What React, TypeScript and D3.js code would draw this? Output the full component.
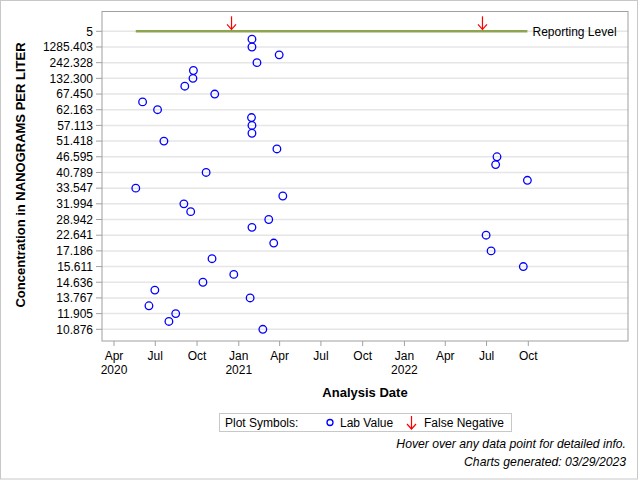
import React from "react";
import * as d3 from "d3";

// ---- data ----
// y categories (ordered top to bottom); only every other one is labelled on the axis
const yCategories: string[] = [
  "5", "1542.110", "1285.403", "512.760", "242.328", "187.450", "132.300", "98.214",
  "67.450", "64.870", "62.163", "59.602", "57.113", "54.231", "51.418", "48.977",
  "46.595", "43.512", "40.789", "36.904", "33.547", "32.815", "31.994", "30.127",
  "28.942", "25.330", "22.641", "19.874", "17.186", "16.402", "15.611", "15.098",
  "14.636", "14.215", "13.767", "12.851", "11.905", "11.340", "10.876",
];

const labDates: string[] = [
  "2021-01-30", "2021-01-30", "2021-03-31", "2021-02-10", "2020-09-23", "2020-09-22",
  "2020-09-04", "2020-11-09", "2020-06-03", "2020-07-06", "2021-01-29", "2021-01-30",
  "2021-01-30", "2020-07-20", "2021-03-26", "2022-07-24", "2022-07-21", "2020-10-21",
  "2022-09-29", "2020-05-19", "2021-04-08", "2020-09-02", "2020-09-17", "2021-03-08",
  "2021-01-30", "2022-06-30", "2021-03-19", "2022-07-11", "2020-11-03", "2022-09-20",
  "2020-12-21", "2020-10-14", "2020-06-30", "2021-01-26", "2020-06-17", "2020-08-15",
  "2020-07-31", "2021-02-23",
];
const labValues: string[] = [
  "1542.110", "1285.403", "512.760", "242.328", "187.450", "132.300", "98.214",
  "67.450", "64.870", "62.163", "59.602", "57.113", "54.231", "51.418", "48.977",
  "46.595", "43.512", "40.789", "36.904", "33.547", "32.815", "31.994", "30.127",
  "28.942", "25.330", "22.641", "19.874", "17.186", "16.402", "15.611", "15.098",
  "14.636", "14.215", "13.767", "12.851", "11.905", "11.340", "10.876",
];

const falseNegativeDates: string[] = ["2020-12-16", "2022-06-22"];
const reportingLevel = "5";

const xTickStart = "2020-04-01";
const xTickEnd = "2022-10-01";

const W = 640;
const H = 480;
const plot = { left: 102, right: 628, top: 11.5, bottom: 341 };
const font = "'Liberation Sans', Arial, sans-serif";

const parse = d3.utcParse("%Y-%m-%d");

export default function App() {
  const x = d3
    .scaleUtc()
    .domain([parse(xTickStart)!, parse(xTickEnd)!])
    .range([114, 528.3]);
  const y = d3.scalePoint<string>().domain(yCategories).range([31.3, 329.3]).padding(0);

  const points = labDates.map((d, i) => ({ date: parse(d)!, value: labValues[i] }));
  const ext = d3.extent(points, (p) => p.date) as [Date, Date];
  const xTicks = x.ticks(d3.utcMonth.every(3)!);
  const monthFmt = d3.utcFormat("%b");
  const yearFmt = d3.utcFormat("%Y");

  const labelled = yCategories.filter((_, i) => i % 2 === 0);
  const ry = y(reportingLevel)!;

  return (
    <svg width={W} height={H} style={{ position: "absolute", left: 0, top: 0 }} fontFamily={font}>
      <rect x={0.5} y={0.5} width={637} height={478.5} fill="white" stroke="#c8c8c8" />
      {/* gridlines */}
      {labelled.map((c) => (
        <line key={"g" + c} x1={plot.left} x2={plot.right} y1={y(c)} y2={y(c)} stroke="#e6e6e6" strokeWidth={1.5} />
      ))}
      {/* frame */}
      <rect
        x={plot.left}
        y={plot.top}
        width={plot.right - plot.left}
        height={plot.bottom - plot.top}
        fill="none"
        stroke="#a0a0a0"
      />
      {/* y axis ticks */}
      {labelled.map((c) => (
        <g key={"t" + c}>
          <line x1={96} x2={plot.left} y1={y(c)} y2={y(c)} stroke="#a0a0a0" />
          <text x={93} y={y(c)! + 4.3} fontSize={12} textAnchor="end" fill="#000">
            {c}
          </text>
        </g>
      ))}
      {/* x axis ticks */}
      {xTicks.map((t) => {
        const m = t.getUTCMonth();
        const first = t.getTime() === xTicks[0].getTime() || m === 0;
        return (
          <g key={t.toISOString()}>
            <line x1={x(t)} x2={x(t)} y1={plot.bottom} y2={plot.bottom + 5} stroke="#a0a0a0" />
            <text x={x(t)} y={360} fontSize={12} textAnchor="middle">
              {monthFmt(t)}
            </text>
            {first && (
              <text x={x(t)} y={374} fontSize={12} textAnchor="middle">
                {yearFmt(t)}
              </text>
            )}
          </g>
        );
      })}
      {/* axis labels */}
      <text x={365} y={397} fontSize={13} fontWeight="bold" textAnchor="middle">
        Analysis Date
      </text>
      <text
        transform={`translate(25,175) rotate(-90)`}
        fontSize={13}
        fontWeight="bold"
        textAnchor="middle"
      >
        Concentration in NANOGRAMS PER LITER
      </text>
      {/* reporting level */}
      <line x1={x(ext[0])} x2={x(ext[1])} y1={ry} y2={ry} stroke="#8DA550" strokeWidth={2.5} />
      <text x={532.5} y={ry + 4.3} fontSize={12}>
        Reporting Level
      </text>
      {/* false negatives */}
      {falseNegativeDates.map((d) => {
        const cx = x(parse(d)!);
        return (
          <g key={d} stroke="#FF0000" fill="none" strokeWidth={1.2}>
            <line x1={cx} x2={cx} y1={ry - 15} y2={ry - 2} />
            <polyline points={`${cx - 4.5},${ry - 7} ${cx},${ry - 2} ${cx + 4.5},${ry - 7}`} />
          </g>
        );
      })}
      {/* lab values */}
      {points.map((p, i) => (
        <circle key={i} cx={x(p.date)} cy={y(p.value)} r={3.8} fill="none" stroke="#0000FF" strokeWidth={1.3} />
      ))}
      {/* legend */}
      <rect x={219.5} y={413.5} width={292} height={18} fill="white" stroke="#c8c8c8" />
      <text x={225} y={426.5} fontSize={12}>
        Plot Symbols:
      </text>
      <circle cx={330} cy={422.5} r={3} fill="none" stroke="#0000FF" strokeWidth={1.3} />
      <text x={340} y={426.5} fontSize={12}>
        Lab Value
      </text>
      <g stroke="#FF0000" fill="none" strokeWidth={1.2}>
        <line x1={411.5} x2={411.5} y1={416} y2={429} />
        <polyline points={`407,424 411.5,429 416,424`} />
      </g>
      <text x={424} y={426.5} fontSize={12}>
        False Negative
      </text>
      {/* footnotes */}
      <text x={626} y={448} fontSize={12.2} fontStyle="italic" textAnchor="end">
        Hover over any data point for detailed info.
      </text>
      <text x={626} y={466} fontSize={12.2} fontStyle="italic" textAnchor="end">
        Charts generated: 03/29/2023
      </text>
    </svg>
  );
}
